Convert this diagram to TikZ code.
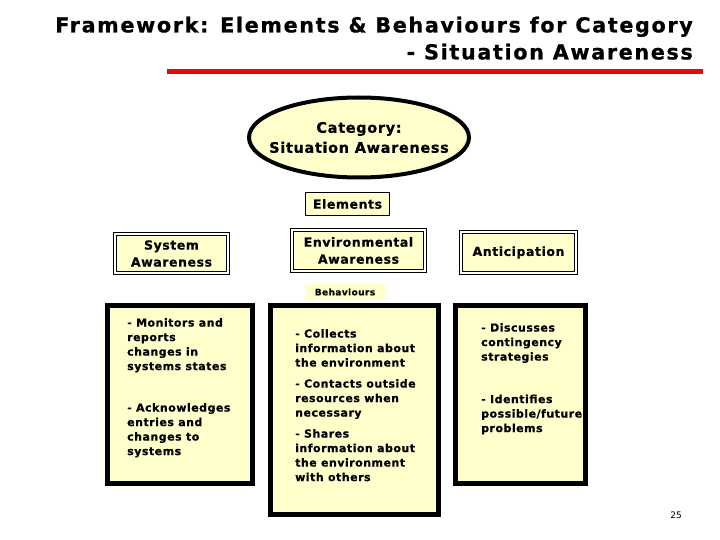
\documentclass[tikz,border=0pt]{standalone}
\usepackage{fontspec}
\setmainfont{DejaVu Sans}
\newfontfamily\boxfont[LetterSpace=4.5,BoldFeatures={FakeBold=0.7}]{DejaVu Sans}
\newfontfamily\headfont[LetterSpace=8,BoldFeatures={FakeBold=0.8}]{DejaVu Sans}
\usetikzlibrary{shapes.geometric}
\definecolor{paleyellow}{RGB}{255,255,204}
\definecolor{titlered}{RGB}{228,8,10}

\begin{document}
\begin{tikzpicture}[x=1pt,y=-1pt,
	elembox/.style={draw,double,line width=1.4pt,double distance=1.6pt,fill=paleyellow,align=center,inner sep=0pt,font=\boxfont\bfseries\fontsize{12.5}{17}\selectfont},
	behbox/.style={draw,line width=5pt,fill=paleyellow,inner sep=0pt},
	behtext/.style={anchor=north west,align=left,inner sep=0pt,font=\boxfont\bfseries\fontsize{11}{14.5}\selectfont}]
	\useasboundingbox (0,0) rectangle (720,540);
	%TITLE
	\node[anchor=north east,align=right,inner sep=0pt,font=\headfont\bfseries\fontsize{20.7}{27}\selectfont] (title) at (693,16.5) {Framework: Elements \& Behaviours for Category\\- Situation Awareness};
	\draw[titlered,line width=5pt] (167,72)--(703,72);
	
	%CATEGORY
	\node[ellipse,draw,line width=4pt,fill=paleyellow,minimum width=220pt,minimum height=80pt,align=center,font=\boxfont\bfseries\fontsize{14.5}{20}\selectfont] (cat) at (359,137.5) {\makebox[0pt]{Category:}\\\makebox[0pt]{Situation Awareness}};
	
	%ELEMENTS
	\node[draw,line width=0.8pt,fill=paleyellow,minimum width=84pt,minimum height=23pt,inner sep=0pt,font=\boxfont\bfseries\fontsize{12.5}{15}\selectfont] (elements) at (347.5,204) {Elements};
	\node[elembox,minimum width=112.6pt,minimum height=38.6pt] (sysaware) at (171.5,253.5) {System\\Awareness};
	\node[elembox,minimum width=132.6pt,minimum height=40.6pt] (envaware) at (358.5,250.5) {Environmental\\Awareness};
	\node[elembox,minimum width=114.6pt,minimum height=40.6pt] (anticip) at (518.5,252.5) {Anticipation};
	
	%BEHAVIOURS
	\node[fill=paleyellow,minimum width=80pt,minimum height=16pt,inner sep=0pt,font=\boxfont\bfseries\fontsize{9}{11}\selectfont] (behaviours) at (345,292) {Behaviours};
	\node[behbox,minimum width=145pt,minimum height=178pt] (sysbeh) at (180,394.5) {};
	\node[behbox,minimum width=168pt,minimum height=209pt] (envbeh) at (354.5,410) {};
	\node[behbox,minimum width=130pt,minimum height=178pt] (antbeh) at (520.5,394.5) {};
	%
	\node[behtext] (systext) at (127,318) {- Monitors and\\reports\\changes in\\systems states\\[27pt]- Acknowledges\\entries and\\changes to\\systems};
	\node[behtext] (envtext) at (295,329) {- Collects\\information about\\the environment\\[6.5pt]- Contacts outside\\resources when\\necessary\\[6.5pt]- Shares\\information about\\the environment\\with others};
	\node[behtext] (anttext) at (481,323) {- Discusses\\contingency\\strategies\\[28pt]- Identifies\\possible/future\\problems};
	
	%PAGE
	\node[font=\fontsize{9}{11}\selectfont] (page) at (676,515) {25};
\end{tikzpicture}
\end{document}
